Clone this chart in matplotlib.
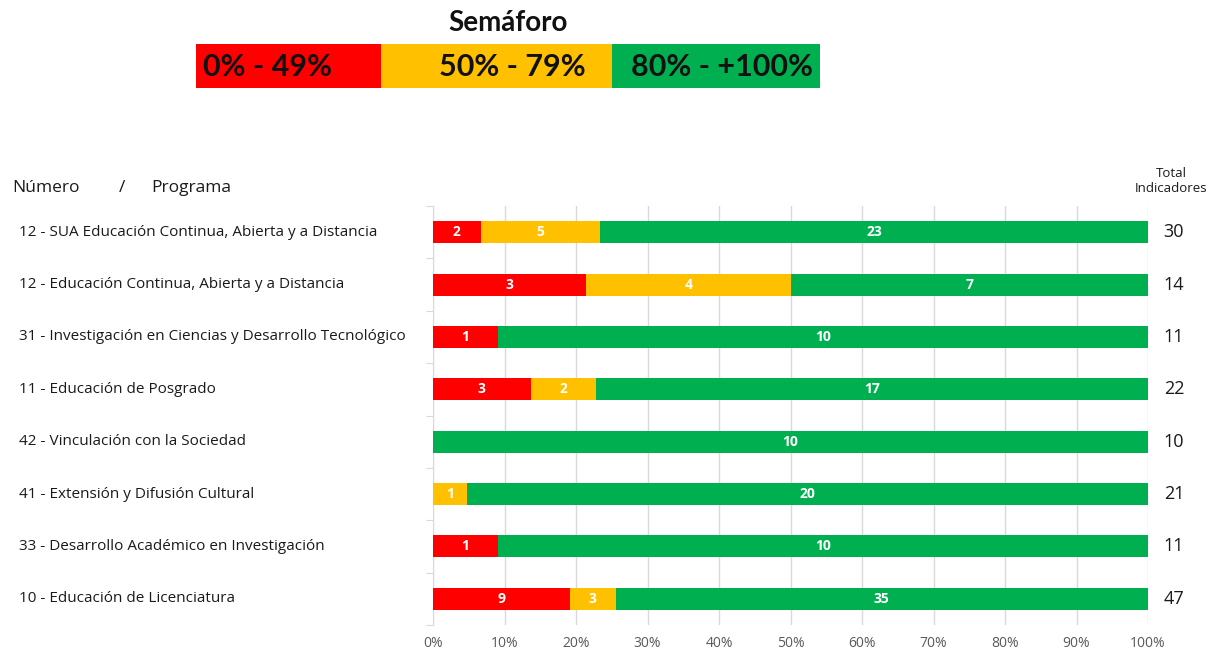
import matplotlib.pyplot as plt
import numpy as np

# data (top row first)
programas = [
    '12 - SUA Educación Continua, Abierta y a Distancia',
    '12 - Educación Continua, Abierta y a Distancia',
    '31 - Investigación en Ciencias y Desarrollo Tecnológico',
    '11 - Educación de Posgrado',
    '42 - Vinculación con la Sociedad',
    '41 - Extensión y Difusión Cultural',
    '33 - Desarrollo Académico en Investigación',
    '10 - Educación de Licenciatura',
]
rojo     = [2, 3, 1, 3, 0, 0, 1, 9]
amarillo = [5, 4, 0, 2, 0, 1, 0, 3]
verde    = [23, 7, 10, 17, 10, 20, 10, 35]
totales  = [30, 14, 11, 22, 10, 21, 11, 47]

legend_labels = ['0% - 49%', '50% - 79%', '80% - +100%']
colores = ['#FF0000', '#FFC000', '#00B050']

W, H = 1222, 655
fig = plt.figure(figsize=(W/100, H/100), dpi=100)
plt.rcParams['font.family'] = ['Open Sans', 'DejaVu Sans']

ax = fig.add_axes([433/W, 1-625/H, 715/W, 419/H])

series = np.array([rojo, amarillo, verde], dtype=float)
tot = series.sum(axis=0)
frac = series / tot
y = np.arange(len(programas))
left = np.zeros(len(programas))
for k in range(3):
    ax.barh(y, frac[k], left=left, height=0.42, color=colores[k], zorder=3)
    for i in range(len(programas)):
        if series[k, i] > 0:
            ax.text(left[i] + frac[k, i]/2, y[i], f'{int(series[k, i])}',
                    ha='center', va='center', color='white', fontsize=10,
                    fontweight='bold', zorder=4)
    left += frac[k]

ax.set_xlim(0, 1)
ax.set_ylim(len(programas) - 0.5, -0.5)
ax.set_xticks(np.linspace(0, 1, 11))
ax.set_xticklabels([f'{p}%' for p in range(0, 101, 10)], color='#595959', fontsize=10)
ax.tick_params(axis='x', length=0, pad=8)
ax.grid(axis='x', color='#d9d9d9', lw=1, zorder=0)
ax.set_yticks(np.arange(-0.5, len(programas)), minor=False)
ax.set_yticklabels([])
ax.tick_params(axis='y', length=5, color='#d9d9d9', direction='out')
for s in ['top', 'right', 'bottom']:
    ax.spines[s].set_visible(False)
ax.spines['left'].set_color('#d9d9d9')

# category labels and totals
for i, (p, t) in enumerate(zip(programas, totales)):
    yy = ax.transData.transform((0, i))[1] / H
    fig.text(19/W, yy, p, ha='left', va='center', fontsize=11, color='#1a1a1a')
    fig.text(1174/W, yy, str(t), ha='center', va='center', fontsize=13, color='#1a1a1a')

fig.text(12/W, 1-188/H, 'Número', ha='left', va='center', fontsize=12.5, color='#1a1a1a')
fig.text(122/W, 1-188/H, '/', ha='center', va='center', fontsize=12.5, color='#1a1a1a')
fig.text(151/W, 1-188/H, 'Programa', ha='left', va='center', fontsize=12.5, color='#1a1a1a')
fig.text(1171/W, 1-181/H, 'Total\nIndicadores', ha='center', va='center', fontsize=9.5,
         color='#1a1a1a', linespacing=1.2)

# semaforo legend
fig.text(508/W, 1-23/H, 'Semáforo', ha='center', va='center', fontsize=20,
         fontweight='bold', color='#111111', family=['Lato', 'DejaVu Sans'])
cajas = [(196, 381), (381, 612), (612, 820)]
text_x = [(203, 'left'), (512, 'center'), (722, 'center')]
for (x0, x1), c, lab, (tx, ha) in zip(cajas, colores, legend_labels, text_x):
    lax = fig.add_axes([x0/W, 1-88/H, (x1-x0)/W, 44/H])
    lax.set_facecolor(c)
    lax.set_xticks([])
    lax.set_yticks([])
    for s in lax.spines.values():
        s.set_visible(False)
    fig.text(tx/W, 1-67/H, lab, ha=ha, va='center', fontsize=22, fontweight='bold',
             color='#111111', family=['Lato', 'DejaVu Sans'])

fig.savefig('out.png', dpi=100)
